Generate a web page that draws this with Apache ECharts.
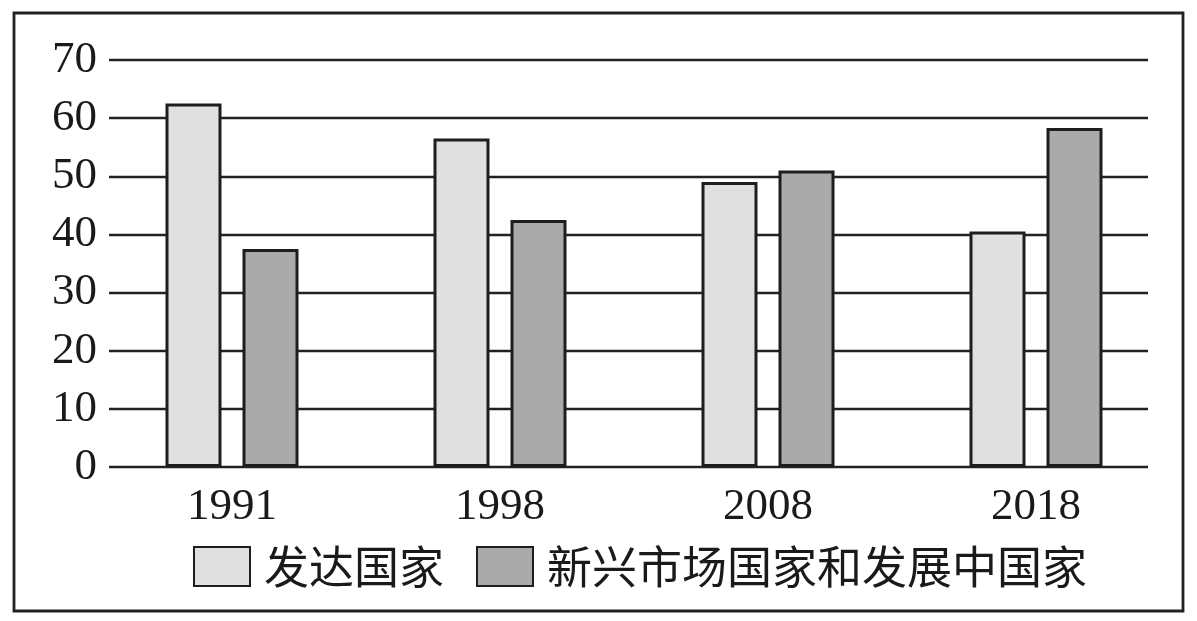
<!DOCTYPE html>
<html>
<head>
<meta charset="utf-8">
<script src="https://cdn.jsdelivr.net/npm/echarts@6/dist/echarts.min.js"></script>
<style>html,body{margin:0;padding:0;background:#fff;}#c{width:1197px;height:621px;}</style>
</head>
<body>
<div id="c"></div>
<script>
var categories = ['1991', '1998', '2008', '2018'];
var developed = [62.5, 56.5, 49, 40.5];
var emerging = [37.5, 42.5, 51, 58.3];
var seriesNames = ['发达国家', '新兴市场国家和发展中国家'];
var yTicks = [0, 10, 20, 30, 40, 50, 60, 70];

var chart = echarts.init(document.getElementById('c'));
var serif = '"Liberation Serif", "DejaVu Serif", serif';
var cjk = '"Noto Sans CJK SC", sans-serif';
var option = {
  backgroundColor: '#fff',
  animation: false,
  graphic: [{
    type: 'rect',
    shape: { x: 14, y: 13, width: 1169, height: 598 },
    style: { fill: 'none', stroke: '#222', lineWidth: 2.8 },
    z: 100
  }],
  legend: {
    left: 193, top: 544, padding: 0,
    itemWidth: 56, itemHeight: 39, itemGap: 32,
    icon: 'rect',
    textStyle: { fontFamily: cjk, fontSize: 45, color: '#1a1a1a', padding: [0, 0, 0, 9] },
    data: seriesNames
  },
  grid: [
    { left: 98, right: 27, top: 60, bottom: 154 },
    { left: 109, right: 49, top: 60, bottom: 154 }
  ],
  xAxis: [
    {
      type: 'category', gridIndex: 0, data: categories,
      axisLine: { show: false }, axisTick: { show: false },
      axisLabel: { fontFamily: serif, fontSize: 45, color: '#1a1a1a', margin: 18 }
    },
    { type: 'value', gridIndex: 1, show: false, min: 0, max: 1 }
  ],
  yAxis: [
    { type: 'value', gridIndex: 0, min: 0, max: 70, interval: 10, show: false, splitLine: { show: false } },
    {
      type: 'value', gridIndex: 1, min: yTicks[0], max: yTicks[yTicks.length - 1], interval: 10,
      axisLine: { show: false }, axisTick: { show: false },
      axisLabel: { fontFamily: serif, fontSize: 45, color: '#1a1a1a', margin: 12 },
      splitLine: { lineStyle: { color: '#222', width: 2.4 } }
    }
  ],
  series: [
    {
      name: seriesNames[0], type: 'bar', xAxisIndex: 0, yAxisIndex: 0,
      data: developed, barWidth: 56, barGap: '37.5%',
      itemStyle: { color: '#e0e0e0', borderColor: '#1e1e1e', borderWidth: 3 }
    },
    {
      name: seriesNames[1], type: 'bar', xAxisIndex: 0, yAxisIndex: 0,
      data: emerging, barWidth: 56, barGap: '37.5%',
      itemStyle: { color: '#aaaaaa', borderColor: '#1e1e1e', borderWidth: 3 }
    }
  ]
};
chart.setOption(option);
</script>
</body>
</html>
